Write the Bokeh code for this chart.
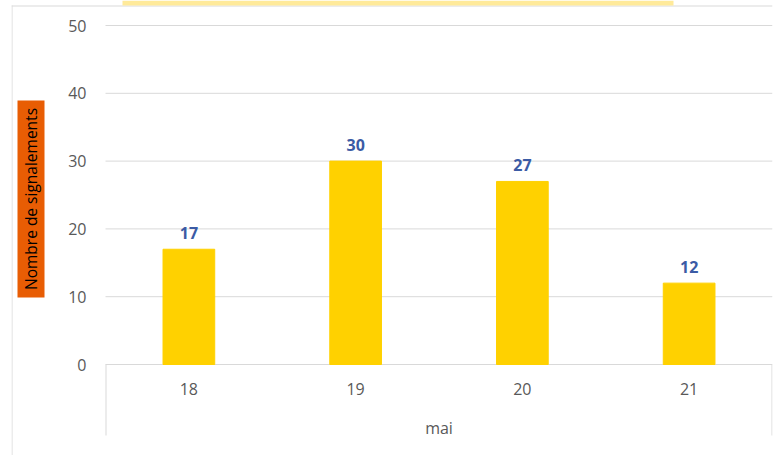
import math
from bokeh.plotting import figure
from bokeh.models import Range1d, FixedTicker, ColumnDataSource
from bokeh.core.properties import value
from bokeh.embed import file_html
from bokeh.resources import INLINE

month = "mai"
days = ["18", "19", "20", "21"]
counts = [17, 30, 27, 12]
y_ticks = [0, 10, 20, 30, 40, 50]
y_title = "Nombre de signalements"

FONT = "Open Sans"
FS = "16px"
W, H = 776, 455
PL, PR, PB = 105, 772, 364          # plot-area edges (canvas px)
PX_PER_UNIT = (364 - 25) / 50.0
NCAT = len(days)
CAT_W = (PR - PL) / NCAT

def dx(px):
    return (px - PL) / CAT_W

def dy(px):
    return (PB - px) / PX_PER_UNIT

xs = [i + 0.5 for i in range(NCAT)]
src = ColumnDataSource(dict(x=xs, y=counts, t=[str(c) for c in counts]))

p = figure(width=W, height=H, x_range=Range1d(dx(11), dx(PR)), y_range=Range1d(dy(H), dy(0)),
           output_backend="svg", toolbar_location=None,
           min_border_left=11, min_border_right=W - PR, min_border_top=0, min_border_bottom=0)
p.outline_line_color = None
p.background_fill_color = "white"
p.border_fill_color = "white"

GRAY = "#D9D9D9"
# value gridlines restricted to the plot area
p.segment(x0=0, x1=NCAT, y0=y_ticks, y1=y_ticks, line_color=GRAY, line_width=1)

p.vbar(x="x", top="y", width=0.31, source=src, color="#FFD100")
p.text(x="x", y="y", text="t", source=src, text_align="center", text_baseline="middle",
       y_offset=-16, text_font=value(FONT), text_font_size=FS, text_font_style="bold",
       text_color="#3B5BA5")

# axes at fixed positions inside the canvas
p.yaxis.fixed_location = 0
p.yaxis.ticker = FixedTicker(ticks=y_ticks)
p.yaxis.axis_line_color = None
p.yaxis.major_tick_line_color = None
p.yaxis.minor_tick_line_color = None
p.yaxis.major_tick_out = 0
p.yaxis.major_tick_in = 0
p.yaxis.major_label_standoff = 19
p.yaxis.major_label_text_font = FONT
p.yaxis.major_label_text_font_size = FS
p.yaxis.major_label_text_color = "#595959"

p.xaxis.fixed_location = 0
p.xaxis.ticker = FixedTicker(ticks=xs)
p.xaxis.major_label_overrides = {x: d for x, d in zip(xs, days)}
p.xaxis.axis_line_color = None
p.xaxis.major_tick_line_color = None
p.xaxis.minor_tick_line_color = None
p.xaxis.major_tick_out = 0
p.xaxis.major_tick_in = 0
p.xaxis.major_label_standoff = 18
p.xaxis.major_label_text_font = FONT
p.xaxis.major_label_text_font_size = FS
p.xaxis.major_label_text_color = "#595959"

p.xgrid.grid_line_color = None
p.ygrid.grid_line_color = None

# group label of the categories
p.text(x=[NCAT / 2], y=[dy(427)], text=[month], text_align="center", text_baseline="middle",
       text_font=value(FONT), text_font_size=FS, text_color="#595959")

# category box edges below the plot
p.segment(x0=[dx(PL + 0.5), dx(PR - 0.5)], x1=[dx(PL + 0.5), dx(PR - 0.5)],
          y0=[0, 0], y1=[dy(435), dy(435)], line_color=GRAY, line_width=1)
# chart area border (left and top)
p.segment(x0=[dx(11.5), dx(11)], x1=[dx(11.5), dx(PR)], y0=[dy(5), dy(5.5)],
          y1=[dy(H), dy(5.5)], line_color=GRAY, line_width=1)
# cropped title box at the top
p.quad(left=dx(122), right=dx(673), top=dy(0), bottom=dy(5), color="#FFEA9A", line_color=None)

# y axis title in orange box
p.quad(left=dx(17), right=dx(44), top=dy(100), bottom=dy(297), color="#E85D04", line_color=None)
p.text(x=[dx(30.5)], y=[dy(198.5)], text=[y_title], angle=math.pi / 2, text_align="center",
       text_baseline="middle", text_font=value(FONT), text_font_size="15.5px", text_color="black")

open("out.html", "w").write(file_html(p, INLINE))
